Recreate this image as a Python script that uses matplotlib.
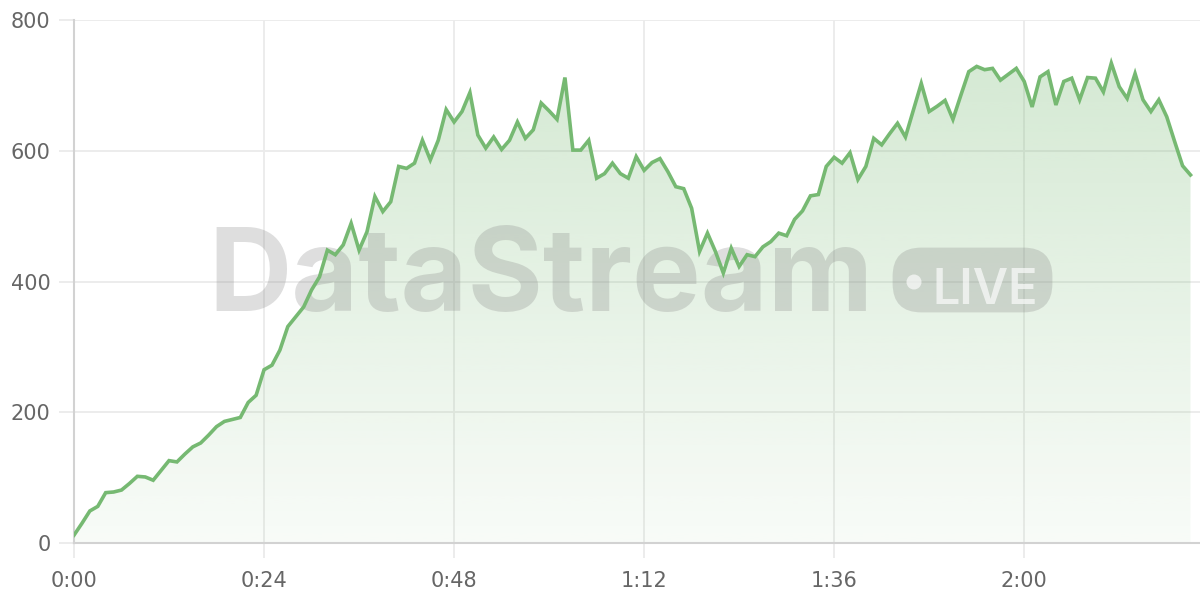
import numpy as np
import matplotlib
matplotlib.use("Agg")
import matplotlib.pyplot as plt
from matplotlib.ticker import FuncFormatter, MultipleLocator
from matplotlib.patches import FancyBboxPatch, Ellipse

# one reading per second, t = 0 .. 141
valores = [
    12, 30, 49, 56, 77, 78, 81, 91, 102, 101,
    96, 111, 126, 124, 136, 147, 153, 165, 178, 186,
    189, 192, 215, 226, 265, 272, 295, 331, 346, 361,
    387, 407, 448, 441, 456, 489, 448, 476, 530, 507,
    522, 576, 573, 581, 616, 586, 616, 663, 644, 660,
    689, 624, 604, 621, 602, 616, 644, 619, 632, 673,
    661, 648, 712, 601, 601, 616, 558, 565, 581, 565,
    558, 591, 570, 582, 588, 568, 545, 542, 512, 446,
    474, 446, 413, 451, 423, 441, 438, 453, 461, 474,
    470, 495, 508, 531, 533, 576, 590, 581, 597, 556,
    576, 619, 609, 626, 642, 621, 662, 703, 660, 668,
    677, 648, 685, 721, 729, 724, 726, 708, 717, 726,
    706, 667, 713, 721, 670, 706, 711, 678, 712, 711,
    690, 734, 698, 680, 718, 678, 660, 678, 652, 614,
    577, 563,
]
segundos = np.arange(len(valores))
marcas_y = [0, 200, 400, 600, 800]

verde = "#76b972"
gris_rejilla = "#ebebeb"
gris_eje = "#d2d2d2"
gris_texto = "#666666"

fig = plt.figure(figsize=(12, 6), dpi=100)
ax = fig.add_axes([74 / 1200, 1 - 543 / 600, (1200 - 74) / 1200, (543 - 20) / 600])

ax.set_xlim(0, 142.2)
ax.set_ylim(0, 800)

# relleno con degradado, recortado bajo la curva
poly = ax.fill_between(segundos, valores, 0, color="none", lw=0)
n = 256
grad = np.zeros((n, 1, 4))
r, g, b = matplotlib.colors.to_rgb(verde)
grad[:, 0, 0] = r
grad[:, 0, 1] = g
grad[:, 0, 2] = b
grad[:, 0, 3] = np.linspace(0.05, 0.33, n)
im = ax.imshow(grad, extent=[0, segundos[-1], 0, 800], origin="lower",
               aspect="auto", interpolation="bilinear", zorder=1)
im.set_clip_path(poly.get_paths()[0], ax.transData)

ax.plot(segundos, valores, color=verde, lw=2.6, solid_joinstyle="miter", zorder=4)

# marca de agua
ax.text(208 / 1200, 1 - 311 / 600, "DataStream", transform=fig.transFigure,
        fontsize=83, fontweight="bold", family=["Inter", "DejaVu Sans"],
        color="#808080", alpha=0.26, ha="left", va="baseline", zorder=2)
caja = FancyBboxPatch((907 / 1200, 1 - 298 / 600), (1038 - 907) / 1200, (298 - 262) / 600,
                      boxstyle="round,pad=0.012,rounding_size=0.024",
                      transform=fig.transFigure, facecolor="#808080", alpha=0.26,
                      edgecolor="none", zorder=2, mutation_aspect=2)
ax.add_patch(caja)
ax.add_patch(Ellipse((914 / 1200, 1 - 282 / 600), 15 / 1200, 15 / 600,
                     transform=fig.transFigure, facecolor="white", alpha=0.65,
                     edgecolor="none", zorder=3))
ax.text(933 / 1200, 1 - 304 / 600, "LIVE", transform=fig.transFigure,
        fontsize=35, fontweight="semibold", family=["Inter", "DejaVu Sans"],
        color="white", alpha=0.65, ha="left", va="baseline", zorder=3)

ax.xaxis.set_major_locator(MultipleLocator(24))
ax.xaxis.set_major_formatter(FuncFormatter(lambda v, p: f"{int(v) // 60}:{int(v) % 60:02d}"))
ax.set_yticks(marcas_y)

ax.grid(True, color=gris_rejilla, lw=1.3, zorder=0)
ax.set_axisbelow(True)
for lado in ["top", "right"]:
    ax.spines[lado].set_visible(False)
for lado in ["left", "bottom"]:
    ax.spines[lado].set_color(gris_eje)
    ax.spines[lado].set_linewidth(1.5)

ax.tick_params(axis="both", length=11, width=1.3, color=gris_rejilla,
               labelsize=15, labelcolor=gris_texto)
ax.tick_params(axis="y", pad=6)
ax.tick_params(axis="x", pad=9)

fig.savefig("out.png", dpi=100)
